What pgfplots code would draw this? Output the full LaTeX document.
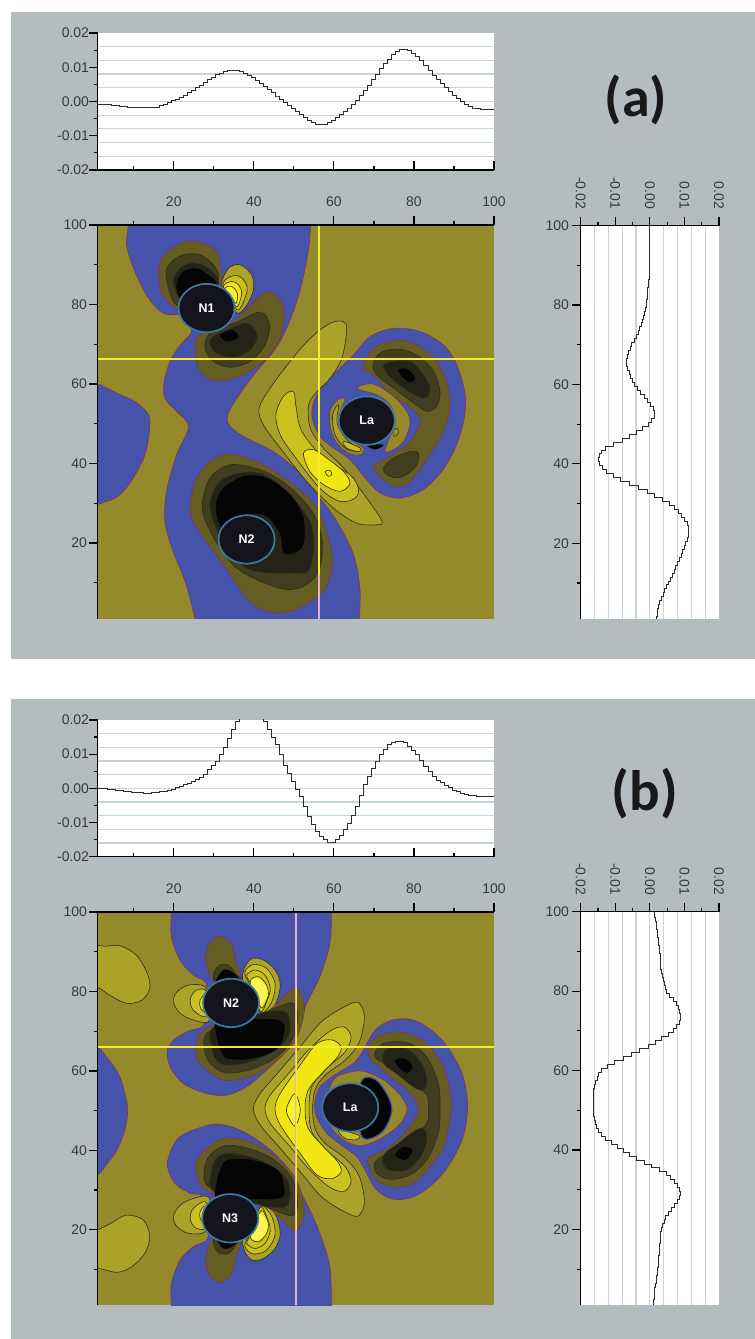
\documentclass[border=0pt]{standalone}
\usepackage{pgfplots}
\usepackage{pgfplotstable}
\usepackage{fontspec}
\pgfplotsset{compat=1.18}
\setmainfont{Liberation Sans}
\newfontfamily\headfont{Carlito}
\definecolor{bgp}{RGB}{180,188,191}
\definecolor{ol}{RGB}{149,138,43}
\definecolor{bl}{RGB}{70,83,170}
\definecolor{ed}{RGB}{130,50,90}
\definecolor{ln}{RGB}{45,45,30}
\definecolor{d1}{RGB}{100,94,35}
\definecolor{d2}{RGB}{64,62,30}
\definecolor{d3}{RGB}{36,36,22}
\definecolor{d4}{RGB}{5,5,5}
\definecolor{y1}{RGB}{172,162,40}
\definecolor{y2}{RGB}{202,192,32}
\definecolor{y3}{RGB}{240,230,20}
\definecolor{y4}{RGB}{250,242,40}
\definecolor{atom}{RGB}{20,20,28}
\definecolor{rim}{RGB}{62,122,160}
\definecolor{lab}{RGB}{55,58,60}
\definecolor{gridc}{RGB}{197,211,219}
\definecolor{crossy}{RGB}{245,235,50}
\definecolor{crossp}{RGB}{240,170,195}
\newcommand\fs{\fontsize{14}{14}\selectfont}
\pgfplotsset{
 base/.style={scale only axis, anchor=north west,
  tick style={black,line width=1.2pt},
  major tick length=8.5pt, minor tick length=4pt, scaled ticks=false,
  tick label style={font=\fs,text=lab,inner sep=0pt}},
 noarrow/.style={axis line style={black,line width=1.3pt,-},
  x axis line style={-},y axis line style={-},
  every outer x axis line/.append style={-},every outer y axis line/.append style={-},
  every inner x axis line/.append style={-},every inner y axis line/.append style={-}},
 map/.style={base,axis on top,width=396.3pt,height=393.6pt,xmin=1,xmax=100,ymin=1,ymax=100,
  axis x line=top,axis y line=left,noarrow,tick align=outside,
  xtick={20,40,60,80,100},xticklabels={20,40,60,80,100},minor xtick={10,30,50,70,90},
  ytick={20,40,60,80,100},yticklabels={20,40,60,80,100},minor ytick={10,30,50,70,90},
  xticklabel shift=10pt, yticklabel shift=2pt,
  axis background/.style={fill=ol}},
 prof/.style={base,width=396.3pt,height=137pt,xmin=1,xmax=100,ymin=-0.02,ymax=0.02,
  axis x line=bottom,axis y line=left,noarrow,tick align=outside,
  xtick={20,40,60,80,100},xticklabels={},minor xtick={10,30,50,70,90},
  major x tick style={yshift=8.5pt},minor x tick style={yshift=4pt},
  ytick={-0.02,-0.01,0,0.01,0.02},yticklabels={-0.02,-0.01,0.00,0.01,0.02},
  minor ytick={-0.015,-0.005,0.005,0.015},
  extra y ticks={-0.016,-0.012,-0.008,-0.004,0,0.004,0.008,0.012,0.016},
  extra y tick labels={},
  extra y tick style={grid=major,major tick length=0pt},
  major grid style={gridc,line width=1.2pt},
  axis background/.style={fill=white}},
 side/.style={base,width=138.3pt,height=393pt,xmin=-0.02,xmax=0.02,ymin=1,ymax=100,
  axis x line=top,axis y line=left,noarrow,tick align=outside,
  xtick={-0.02,-0.01,0,0.01,0.02},xticklabels={-0.02,-0.01,0.00,0.01,0.02},
  minor xtick={-0.015,-0.005,0.005,0.015},
  ytick={20,40,60,80,100},yticklabels={20,40,60,80,100},minor ytick={10,30,50,70,90},
  xticklabel style={rotate=-90,anchor=east,xshift=2pt},xticklabel shift=10pt,
  yticklabel shift=3pt,
  extra x ticks={-0.016,-0.012,-0.008,-0.004,0,0.004,0.008,0.012,0.016},
  extra x tick labels={},
  extra x tick style={grid=major,major tick length=0pt},
  major grid style={gridc,line width=1.2pt},
  axis background/.style={fill=white}},
 curve/.style={color=ln,line width=0.9pt},
 P/.style={smooth cycle,tension=0.55,line width=0.6pt},
 pb/.style={P,fill=bl,draw=ed},
 pd1/.style={P,fill=d1,draw=ed},
 pd2/.style={P,fill=d2,draw=ln},
 pd3/.style={P,fill=d3,draw=ln},
 pd4/.style={P,fill=d4,draw=none},
 py1/.style={P,fill=y1,draw=ln},
 py2/.style={P,fill=y2,draw=ln},
 py3/.style={P,fill=y3,draw=ln},
 py4/.style={P,fill=y4,draw=ln},
 pol/.style={P,fill=ol,draw=ed},
 atomm/.style={only marks,mark=*,mark size=24.2,mark options={xscale=1.16,fill=atom,draw=rim,line width=1.7pt},
   nodes near coords={#1},nodes near coords align=center,
   every node near coord/.append style={text=white,anchor=center,font=\fontsize{12.5}{13}\selectfont\bfseries}},
 hy/.style={crossy,line width=2pt},
 hp/.style={crossp,line width=1.8pt},
}
% Lobes round the upper nitrogen of panel b; the lower nitrogen is their near mirror image
\pgfplotstableread[row sep=\\]{x y\\28 87.5\\28.7 91.7\\31.6 94\\34.5 91.7\\35.3 88.3\\36.8 83.3\\33.3 82.4\\30.1 82.4\\}\pa
\pgfplotstableread[row sep=\\]{x y\\29.9 84.1\\31.2 86.5\\33.7 86.6\\35.8 84.1\\36.6 82.9\\30.8 82.4\\}\pb
\pgfplotstableread[row sep=\\]{x y\\30.8 83.3\\32.4 85.4\\34.5 85\\36.2 82.9\\31 82.4\\}\pc
\pgfplotstableread[row sep=\\]{x y\\37.6 85.8\\39.5 88.3\\42.4 87.9\\45.3 85.4\\46.6 81.6\\45.3 76.6\\42 74.2\\40.8 79.9\\37.4 82.4\\}\ya
\pgfplotstableread[row sep=\\]{x y\\37.8 85\\39.9 86.8\\43.2 85.8\\45.3 82\\44.5 77.4\\42 74.7\\41.6 79.9\\38.7 82.4\\}\yb
\pgfplotstableread[row sep=\\]{x y\\38.2 84.1\\40.3 85.4\\42.8 84.1\\44.1 80.8\\43.2 77.4\\41.6 75\\39.1 82\\}\yc
\pgfplotstableread[row sep=\\]{x y\\39.1 82.4\\41.2 83.7\\43.2 81.6\\43.6 79.1\\42.4 76.1\\41.4 76.6\\}\yd
\pgfplotstableread[row sep=\\]{x y\\39.2 82.3\\41.4 83.1\\43.1 81.2\\43.4 78.7\\42 77\\41.2 77\\}\ye
\pgfplotstableread[row sep=\\]{x y\\27.8 81.2\\23.7 81.6\\20.8 79.9\\19.9 77.4\\21.6 74.5\\24.9 72.8\\28.7 72.4\\29 76.6\\}\la
\pgfplotstableread[row sep=\\]{x y\\27.8 80.4\\25.3 80.1\\24.1 77.8\\24.9 75.3\\27.8 73.6\\29 76.6\\}\lb
\pgfplotstableread[row sep=\\]{x y\\27.8 79.1\\26.6 77.8\\26.6 76.1\\27.8 74.7\\29 76.6\\}\lc
\pgfplotstableread[row sep=\\]{x y\\25.6 66\\26.6 69.4\\30.8 71.9\\41.6 74\\45.7 76.9\\50.3 81\\52.6 76.9\\52 71.9\\49.9 66.9\\44.9 61.9\\39.1 58.5\\32.4 57.7\\27.4 61\\25.6 63.5\\}\ma
\pgfplotstableread[row sep=\\]{x y\\27.6 66\\29 70\\40.7 74\\47 76.5\\50 77\\51 73.6\\49.5 67.7\\45 63\\39 60.3\\33 59.5\\29 62\\}\mb
\pgfplotstableread[row sep=\\]{x y\\29.5 66\\30 71\\42 74.5\\47.5 75\\49 72.5\\48.5 68.5\\45 65\\39 62.3\\33 61.5\\30.5 63\\}\mc
\pgfplotstableread[row sep=\\]{x y\\30.7 69\\31.6 65.5\\33.2 63.2\\38 62.9\\42.9 64\\46.4 66.1\\47.5 69.5\\47.5 72\\45 73\\41 73\\31 73\\}\md
\newcommand\lobes[1]{%
 \addplot[pd1] table[x=x,y expr=#1] {\pa};
 \addplot[pd2] table[x=x,y expr=#1] {\pb};
 \addplot[pd4] table[x=x,y expr=#1] {\pc};
 \addplot[py1] table[x=x,y expr=#1] {\ya};
 \addplot[py2] table[x=x,y expr=#1] {\yb};
 \addplot[py2] table[x=x,y expr=#1] {\yc};
 \addplot[py3] table[x=x,y expr=#1] {\yd};
 \addplot[P,fill=y4!80!white,draw=none] table[x=x,y expr=#1] {\ye};
 \addplot[py1] table[x=x,y expr=#1] {\la};
 \addplot[py2] table[x=x,y expr=#1] {\lb};
 \addplot[py3] table[x=x,y expr=#1] {\lc};
 \addplot[pd1] table[x=x,y expr=#1] {\ma};
 \addplot[pd2] table[x=x,y expr=#1] {\mb};
 \addplot[pd3] table[x=x,y expr=#1] {\mc};
 \addplot[pd4] table[x=x,y expr=#1] {\md};
}
\begin{document}
\begin{tikzpicture}[x=1pt,y=1pt]
\path[use as bounding box,fill=white] (0,0) rectangle (755,1339);
\fill[bgp] (10.5,1339-12.5) rectangle (755,1339-659);
\fill[bgp] (10.5,1339-699.5) rectangle (755,0);
\node[font=\headfont\bfseries\fontsize{56}{56}\selectfont,text=black!90] at (636,1339-100) {(a)};
\node[font=\headfont\bfseries\fontsize{57}{57}\selectfont,text=black!90] at (645,1339-794) {(b)};

% ---------- panel a, profile along x
\begin{axis}[prof,at={(97.7pt,1306pt)}]
\addplot[curve,const plot mark mid] coordinates {(1,-0.0008)(2,-0.0008)(3,-0.0009)(4,-0.001)(5,-0.0011)(6,-0.0012)(7,-0.0014)(8,-0.0015)(9,-0.0016)(10,-0.0017)(11,-0.0018)(12,-0.0018)(13,-0.0018)(14,-0.0018)(15,-0.0017)(16,-0.0016)(17,-0.0012)(18,-0.0008)(19,-0.0003)(20,0.0002)(21,0.0007)(22,0.0012)(23,0.0018)(24,0.0025)(25,0.0032)(26,0.004)(27,0.0048)(28,0.0056)(29,0.0064)(30,0.0071)(31,0.0078)(32,0.0083)(33,0.0088)(34,0.009)(35,0.0091)(36,0.009)(37,0.0087)(38,0.0082)(39,0.0076)(40,0.0069)(41,0.0061)(42,0.0052)(43,0.0044)(44,0.0034)(45,0.0025)(46,0.0016)(47,0.0007)(48,-0.0002)(49,-0.0012)(50,-0.0021)(51,-0.003)(52,-0.0039)(53,-0.0047)(54,-0.0054)(55,-0.0061)(56,-0.0067)(57,-0.0068)(58,-0.0066)(59,-0.0061)(60,-0.0054)(61,-0.0046)(62,-0.0037)(63,-0.0029)(64,-0.0019)(65,-0.0009)(66,0.0003)(67,0.0017)(68,0.0032)(69,0.0048)(70,0.0064)(71,0.008)(72,0.0096)(73,0.011)(74,0.0124)(75,0.0136)(76,0.0146)(77,0.0151)(78,0.0152)(79,0.0148)(80,0.0141)(81,0.0131)(82,0.0119)(83,0.0105)(84,0.009)(85,0.0077)(86,0.0064)(87,0.0052)(88,0.004)(89,0.0029)(90,0.0018)(91,0.0008)(92,-0.0001)(93,-0.0009)(94,-0.0015)(95,-0.0019)(96,-0.0021)(97,-0.0023)(98,-0.0024)(99,-0.0024)(100,-0.0024)};
\end{axis}

% ---------- panel a, side profile along y
\begin{axis}[side,at={(580.7pt,1113.3pt)}]
\addplot[curve] coordinates {(-0.0002,100)(-0.0002,86.5)(-0.0004,86.5)(-0.0004,85.5)(-0.0005,85.5)(-0.0005,84.5)(-0.0006,84.5)(-0.0006,83.5)(-0.0007,83.5)(-0.0007,82.5)(-0.0008,82.5)(-0.0008,81.5)(-0.0009,81.5)(-0.0009,80.5)(-0.001,80.5)(-0.001,79.5)(-0.0012,79.5)(-0.0012,78.5)(-0.0015,78.5)(-0.0015,77.5)(-0.0018,77.5)(-0.0018,76.5)(-0.0021,76.5)(-0.0021,75.5)(-0.0024,75.5)(-0.0024,74.5)(-0.0029,74.5)(-0.0029,73.5)(-0.0034,73.5)(-0.0034,72.5)(-0.0039,72.5)(-0.0039,71.5)(-0.0045,71.5)(-0.0045,70.5)(-0.0052,70.5)(-0.0052,69.5)(-0.0057,69.5)(-0.0057,68.5)(-0.0062,68.5)(-0.0062,67.5)(-0.0066,67.5)(-0.0066,66.5)(-0.0067,66.5)(-0.0067,64.5)(-0.0064,64.5)(-0.0064,63.5)(-0.0059,63.5)(-0.0059,62.5)(-0.0055,62.5)(-0.0055,61.5)(-0.005,61.5)(-0.005,60.5)(-0.0044,60.5)(-0.0044,59.5)(-0.0036,59.5)(-0.0036,58.5)(-0.0026,58.5)(-0.0026,57.5)(-0.0015,57.5)(-0.0015,56.5)(-0.0006,56.5)(-0.0006,55.5)(0.0003,55.5)(0.0003,54.5)(0.001,54.5)(0.001,53.5)(0.0013,53.5)(0.0013,52.5)(0.0012,52.5)(0.0012,51.5)(0.0005,51.5)(0.0005,50.5)(-0.0005,50.5)(-0.0005,49.5)(-0.002,49.5)(-0.002,48.5)(-0.0038,48.5)(-0.0038,47.5)(-0.0058,47.5)(-0.0058,46.5)(-0.008,46.5)(-0.008,45.5)(-0.0105,45.5)(-0.0105,44.5)(-0.0128,44.5)(-0.0128,43.5)(-0.014,43.5)(-0.014,42.5)(-0.0146,42.5)(-0.0146,41.5)(-0.0148,41.5)(-0.0148,40.5)(-0.0146,40.5)(-0.0146,39.5)(-0.0138,39.5)(-0.0138,38.5)(-0.0125,38.5)(-0.0125,37.5)(-0.0105,37.5)(-0.0105,36.5)(-0.0084,36.5)(-0.0084,35.5)(-0.0058,35.5)(-0.0058,34.5)(-0.0032,34.5)(-0.0032,33.5)(-0.0008,33.5)(-0.0008,32.5)(0.0014,32.5)(0.0014,31.5)(0.0036,31.5)(0.0036,30.5)(0.0056,30.5)(0.0056,29.5)(0.007,29.5)(0.007,28.5)(0.0082,28.5)(0.0082,27.5)(0.0092,27.5)(0.0092,26.5)(0.0101,26.5)(0.0101,25.5)(0.0108,25.5)(0.0108,24.5)(0.0111,24.5)(0.0111,23.5)(0.0113,23.5)(0.0113,21.5)(0.011,21.5)(0.011,20.5)(0.0104,20.5)(0.0104,19.5)(0.01,19.5)(0.01,18.5)(0.0095,18.5)(0.0095,17.5)(0.0091,17.5)(0.0091,16.5)(0.0086,16.5)(0.0086,15.5)(0.0081,15.5)(0.0081,14.5)(0.0075,14.5)(0.0075,13.5)(0.007,13.5)(0.007,12.5)(0.0064,12.5)(0.0064,11.5)(0.0059,11.5)(0.0059,10.5)(0.0053,10.5)(0.0053,9.5)(0.0048,9.5)(0.0048,8.5)(0.0043,8.5)(0.0043,7.5)(0.0038,7.5)(0.0038,6.5)(0.0034,6.5)(0.0034,5.5)(0.0029,5.5)(0.0029,4.5)(0.0026,4.5)(0.0026,3.5)(0.0023,3.5)(0.0023,2.5)(0.0021,2.5)(0.0021,1.5)(0.0019,1.5)(0.0019,1)};
\end{axis}

% ---------- panel a, map
\begin{axis}[map,at={(97.7pt,1114pt)}]
\addplot[pb] coordinates {(8.7,103)(54.2,103)(54.2,100)(54,97.5)(53.6,93.3)(51.5,83.3)(48.2,74)(44.9,68.2)(40.7,63.2)(36.6,57.7)(33.5,52.3)(34.1,49.3)(38.2,46.4)(44.9,43)(51.5,37.6)(56.5,31.3)(60.7,25.5)(64.9,17.1)(66.5,8.7)(66.4,1)(66.4,-2)(25.3,-2)(25.3,1)(22.8,10.4)(19.5,18.8)(17.8,25.5)(18.2,33)(20.7,42.2)(23.7,49.3)(20.7,53.1)(17.8,56.4)(17.6,60.6)(19.1,65.7)(21.6,69.8)(24.5,73.2)(22.8,75.7)(21.2,77.4)(17.4,77.8)(13.7,81.6)(10.3,88.3)(8.2,95)(8.7,100)};
\addplot[pb] coordinates {(-3,61)(1.6,59.8)(5.8,57.7)(10.3,55.6)(13.7,52.3)(13.9,48.1)(12.8,42.2)(9.9,36.4)(6.6,32.2)(3.3,30.5)(-3,30.2)(-6,45)};
\addplot[pb] coordinates {(64.9,67.3)(69,71.9)(74.9,74)(81.5,73.2)(87.4,69.8)(90.7,64.8)(92.8,57.3)(92.4,50.6)(90.3,43.9)(86.9,38)(82.3,33.4)(76.5,31.3)(71.5,32.6)(67.8,36.4)(64,41)(59.9,43.9)(56.5,46.8)(54.6,51.4)(55,55.6)(57.4,59.8)(60.7,63.2)};
% crescent beyond La
\addplot[pd1] coordinates {(67.4,64.8)(69.9,69)(74.9,70.9)(79.9,70.3)(84.9,66.5)(88.2,60.6)(89,53.9)(87.4,48.1)(84,42.2)(79.9,36.4)(77.4,34.3)(74,34.7)(70.3,38)(69.9,39.7)(73.2,41.4)(78.2,44.7)(81.1,48.9)(81.5,51.4)(78.2,54.8)(74,57.3)(70.7,61.5)(67.8,63.6)};
\addplot[pd2] coordinates {(69.7,64.4)(71.5,67.8)(75.7,68.8)(80.7,67.3)(84.9,63.2)(86.5,58.1)(85.7,54.4)(83.2,53.1)(79.9,55.2)(74.9,59)(71.5,61.5)};
\addplot[pd3] coordinates {(72.4,64.8)(74.9,65.7)(79,65.7)(82.4,62.3)(84,59)(83.2,56.6)(81.1,56.9)(77.4,59)(73.6,62.3)};
\addplot[pd4] coordinates {(76.2,63.6)(78.3,63.8)(80.3,61.5)(79,60.4)(77,61.9)};
\addplot[pd2] coordinates {(72.4,38.9)(74.9,41.4)(79,43)(81.1,42.6)(80.7,39.7)(78.2,37.2)(75.7,36.4)(73.2,37.2)};
% olive and yellow round La
\addplot[pol] coordinates {(66.2,59.4)(69.9,60)(74.9,56.9)(78.2,53.1)(79,49.8)(77.4,45.6)(74.9,43.5)(72.8,43)(73.6,45.6)(75.3,50.6)(74,54.8)(70.7,57.3)(66.6,58.5)};
\addplot[P,fill=ol,draw=ln,line width=0.4pt] coordinates {(74.7,48.1)(75.7,48.9)(76.2,47.7)(75.1,46.8)};
\addplot[pol] coordinates {(59.1,53.5)(61.2,56.2)(62.8,56.2)(61.6,53.1)(61.6,49.3)(64.1,46)(67.4,43.9)(66.6,42.2)(63.7,42.6)(60.7,45.2)(59.1,49.3)};
\addplot[py1] coordinates {(59.7,52.3)(61.2,54.8)(60.8,50.2)(63.2,46)(66.6,43.3)(63.2,43.6)(60.3,47.2)};
\addplot[py2] coordinates {(62.4,45.6)(66.6,43.9)(66.2,43)(63.2,43.9)};
\addplot[pd4] coordinates {(68.2,44.7)(72.4,44.7)(70.3,43.5)};
% big yellow lobe
\addplot[py1] coordinates {(41.3,53.9)(44.1,59)(49.1,65.7)(54.1,71.5)(59.1,75.3)(62.4,75.7)(63.2,73.6)(62,66.5)(59.1,61.5)(55.8,58.1)(53.7,54.8)(54.1,48.9)(57.4,43.9)(62.4,38.9)(68.2,31.3)(72,25.5)(70.7,24.6)(65.7,25)(59.9,28.8)(53.2,35.5)(46.6,43.9)(42.4,49.7)};
\addplot[py2] coordinates {(45.5,52.3)(47.4,56.9)(49.9,58.1)(50.6,53.9)(52,48.1)(57.4,41.4)(64,37.2)(66.1,33.8)(65.3,31.3)(61.5,30.5)(56.5,33.8)(49.9,42.2)(46.6,47.2)};
\addplot[py3] coordinates {(52.4,42.6)(54.9,43.5)(58.2,41.4)(62.4,38)(64,35)(61.5,33)(57.4,34.7)(54,38)};
\addplot[py3] coordinates {(57.8,38)(59,38.3)(59.5,37.2)(58.6,36.8)};
% lobes at N1
\addplot[pd1] coordinates {(16.2,86.6)(17,91.6)(21.6,95.4)(26.6,95.7)(30.8,93.3)(31.8,88.3)(31.6,84.9)(26.6,80.7)(21.1,78.9)(17.4,82)};
\addplot[pd2] coordinates {(18.1,87)(19.1,90.4)(22.4,92.5)(26.6,92.5)(29.9,90)(31.2,86.6)(28.2,81.6)(20.7,79.9)};
\addplot[pd3] coordinates {(19.9,85.8)(21.6,89.1)(24.9,90.4)(28.7,89.1)(31.2,85.8)(29.1,81.6)(22.4,80.7)};
\addplot[pd4] coordinates {(20.6,84.9)(22.4,88.3)(25.7,89.1)(28.7,87.4)(30.8,84.9)(28.2,81.6)(22.4,80.7)};
\addplot[pd1] coordinates {(25.3,69)(26.6,72.4)(34.9,75.7)(42.4,82.8)(46.2,81.6)(47.6,77.4)(46.6,71.5)(42.4,65.7)(36.6,61.9)(30.8,60.8)(26.6,63.1)};
\addplot[pd2] coordinates {(27.8,69)(29.1,72.8)(35.8,75.6)(41.6,78.1)(43.9,74.9)(42.8,69.8)(39.1,65.7)(34.1,64.2)(29.9,65.7)};
\addplot[pd3] coordinates {(29.3,71.5)(33.3,73.6)(38.3,75.3)(40.8,72.4)(39.5,69)(35.8,66.9)(31.6,67.3)(29.5,69)};
\addplot[pd4] coordinates {(31.6,72.4)(34.5,73.6)(36.2,71.9)(34.1,70.7)(32.4,71.1)};
\addplot[py1] coordinates {(32,84.9)(33.7,89.1)(36.6,90)(39.5,87.4)(39.9,83.7)(38.3,79.9)(36.2,77.8)(34.5,79.5)};
\addplot[py2] coordinates {(32.3,84.9)(34.1,87)(36.6,87)(38.3,84.5)(37.8,81.6)(36.2,78.6)(35,79.9)};
\addplot[py3] coordinates {(32.4,84.5)(34.5,85.8)(36.2,84.9)(37,82.8)(35.9,79.5)(34.5,81)};
\addplot[py4] coordinates {(32.8,84.1)(34.5,84.5)(35.9,82.8)(35.6,80.3)(34.5,81.6)};
% lobes at N2
\addplot[pd1] coordinates {(24.1,30.5)(25.8,36.4)(29.1,40.6)(34.1,42.4)(41.6,40.1)(49.9,34.7)(55.7,28.8)(59.1,19.6)(59.5,13.7)(57.4,7.9)(51.5,3.7)(45.7,2.4)(39.9,4.5)(35.7,9.5)(32.4,14.6)(27.4,21.3)(24.5,26.3)};
\addplot[pd2] coordinates {(27.2,30.5)(29.1,36.4)(34.1,39.7)(41.6,38.4)(48.2,34.7)(54.5,28)(57,21.3)(56.5,13.7)(53.2,9.5)(48.2,8.3)(41.6,10.4)(35.7,13.7)(31.6,18.8)(29.1,23)(27.4,27.1)};
\addplot[pd3] coordinates {(29.1,30.5)(31.6,35.5)(36.6,37.6)(42.4,37.2)(48.2,33)(54,25.5)(54.9,18.8)(53.6,12.9)(49.9,12.5)(44,12.5)(38.2,13.7)(33.2,18.8)(29.9,25.5)};
\addplot[pd4] coordinates {(30.7,30.5)(32.4,33.8)(37.4,36.8)(43.2,36.4)(49.1,32.2)(52.4,26.3)(52.4,19.6)(49.9,17.5)(47.4,17.5)(46.6,22.1)(43.2,26.7)(38.2,27.1)(32.4,23.8)(30.7,27.1)};
% cross hair
\addplot[hp] coordinates {(56.3,1)(56.3,12)};
\addplot[hy] coordinates {(56.3,12)(56.3,100)};
\addplot[crossp,line width=0.6pt] coordinates {(1,66.1)(100,66.1)};
\addplot[hy] coordinates {(1,66.4)(100,66.4)};
% atoms
\addplot[atomm=N1] coordinates {(28.2,79.1)};
\addplot[atomm=N2] coordinates {(38.2,20.9)};
\addplot[atomm=La] coordinates {(68.2,50.8)};
\end{axis}

% ---------- panel b, profile along x
\begin{axis}[prof,at={(97.7pt,619pt)},height=136.7pt]
\addplot[curve,const plot mark mid] coordinates {(1,0)(2,0)(3,-0.0001)(4,-0.0002)(5,-0.0003)(6,-0.0005)(7,-0.0007)(8,-0.0009)(9,-0.001)(10,-0.0011)(11,-0.0012)(12,-0.0013)(13,-0.0014)(14,-0.0014)(15,-0.0013)(16,-0.0012)(17,-0.001)(18,-0.0008)(19,-0.0005)(20,-0.0002)(21,0.0002)(22,0.0006)(23,0.001)(24,0.0014)(25,0.0019)(26,0.0025)(27,0.0032)(28,0.0042)(29,0.0054)(30,0.0066)(31,0.008)(32,0.0099)(33,0.012)(34,0.0146)(35,0.0171)(36,0.0195)(37,0.0215)(38,0.023)(39,0.024)(40,0.0245)(41,0.024)(42,0.022)(43,0.0196)(44,0.0172)(45,0.015)(46,0.0127)(47,0.0098)(48,0.0068)(49,0.0044)(50,0.002)(51,-0.0002)(52,-0.0024)(53,-0.0053)(54,-0.0083)(55,-0.0106)(56,-0.0127)(57,-0.0141)(58,-0.0151)(59,-0.0157)(60,-0.0158)(61,-0.015)(62,-0.0137)(63,-0.012)(64,-0.0102)(65,-0.008)(66,-0.0054)(67,-0.0022)(68,0.001)(69,0.0035)(70,0.0059)(71,0.008)(72,0.0098)(73,0.0113)(74,0.0127)(75,0.0133)(76,0.0137)(77,0.0138)(78,0.0134)(79,0.0124)(80,0.0112)(81,0.0098)(82,0.0083)(83,0.0065)(84,0.0049)(85,0.0035)(86,0.0024)(87,0.0016)(88,0.0009)(89,0.0002)(90,-0.0005)(91,-0.001)(92,-0.0015)(93,-0.0018)(94,-0.002)(95,-0.0022)(96,-0.0024)(97,-0.0025)(98,-0.0025)(99,-0.0025)(100,-0.0025)};
\end{axis}

% ---------- panel b, side profile along y
\begin{axis}[side,at={(580.7pt,427.3pt)},height=393.3pt]
\addplot[curve] coordinates {(0.0013,100)(0.0013,99.5)(0.0014,99.5)(0.0014,98.5)(0.0016,98.5)(0.0016,97.5)(0.0018,97.5)(0.0018,96.5)(0.002,96.5)(0.002,95.5)(0.0021,95.5)(0.0021,94.5)(0.0023,94.5)(0.0023,93.5)(0.0024,93.5)(0.0024,92.5)(0.0026,92.5)(0.0026,91.5)(0.0028,91.5)(0.0028,90.5)(0.0029,90.5)(0.0029,89.5)(0.003,89.5)(0.003,88.5)(0.0031,88.5)(0.0031,87.5)(0.0032,87.5)(0.0032,85.5)(0.0033,85.5)(0.0033,84.5)(0.0036,84.5)(0.0036,83.5)(0.0039,83.5)(0.0039,82.5)(0.0042,82.5)(0.0042,81.5)(0.0045,81.5)(0.0045,80.5)(0.0048,80.5)(0.0048,79.5)(0.0056,79.5)(0.0056,78.5)(0.0068,78.5)(0.0068,77.5)(0.0076,77.5)(0.0076,76.5)(0.0082,76.5)(0.0082,75.5)(0.0086,75.5)(0.0086,74.5)(0.0089,74.5)(0.0089,73.5)(0.0088,73.5)(0.0088,72.5)(0.0085,72.5)(0.0085,71.5)(0.0077,71.5)(0.0077,70.5)(0.0068,70.5)(0.0068,69.5)(0.0055,69.5)(0.0055,68.5)(0.0034,68.5)(0.0034,67.5)(0.0015,67.5)(0.0015,66.5)(-0.0005,66.5)(-0.0005,65.5)(-0.0029,65.5)(-0.0029,64.5)(-0.0053,64.5)(-0.0053,63.5)(-0.0076,63.5)(-0.0076,62.5)(-0.0101,62.5)(-0.0101,61.5)(-0.0123,61.5)(-0.0123,60.5)(-0.014,60.5)(-0.014,59.5)(-0.0148,59.5)(-0.0148,58.5)(-0.0153,58.5)(-0.0153,57.5)(-0.0157,57.5)(-0.0157,56.5)(-0.016,56.5)(-0.016,55.5)(-0.0162,55.5)(-0.0162,54.5)(-0.0163,54.5)(-0.0163,53.5)(-0.0164,53.5)(-0.0164,49.5)(-0.0162,49.5)(-0.0162,48.5)(-0.016,48.5)(-0.016,47.5)(-0.0158,47.5)(-0.0158,46.5)(-0.0155,46.5)(-0.0155,45.5)(-0.0149,45.5)(-0.0149,44.5)(-0.014,44.5)(-0.014,43.5)(-0.0127,43.5)(-0.0127,42.5)(-0.0111,42.5)(-0.0111,41.5)(-0.0094,41.5)(-0.0094,40.5)(-0.0077,40.5)(-0.0077,39.5)(-0.0058,39.5)(-0.0058,38.5)(-0.0039,38.5)(-0.0039,37.5)(-0.0017,37.5)(-0.0017,36.5)(0.0005,36.5)(0.0005,35.5)(0.0027,35.5)(0.0027,34.5)(0.0048,34.5)(0.0048,33.5)(0.006,33.5)(0.006,32.5)(0.0072,32.5)(0.0072,31.5)(0.008,31.5)(0.008,30.5)(0.0087,30.5)(0.0087,29.5)(0.0088,29.5)(0.0088,28.5)(0.0085,28.5)(0.0085,27.5)(0.0079,27.5)(0.0079,26.5)(0.0072,26.5)(0.0072,25.5)(0.0062,25.5)(0.0062,24.5)(0.0053,24.5)(0.0053,23.5)(0.0046,23.5)(0.0046,22.5)(0.0041,22.5)(0.0041,21.5)(0.0037,21.5)(0.0037,20.5)(0.0034,20.5)(0.0034,19.5)(0.0032,19.5)(0.0032,18.5)(0.0031,18.5)(0.0031,17.5)(0.003,17.5)(0.003,16.5)(0.0029,16.5)(0.0029,15.5)(0.0028,15.5)(0.0028,14.5)(0.0027,14.5)(0.0027,13.5)(0.0026,13.5)(0.0026,12.5)(0.0025,12.5)(0.0025,11.5)(0.0024,11.5)(0.0024,10.5)(0.0023,10.5)(0.0023,9.5)(0.0021,9.5)(0.0021,8.5)(0.0019,8.5)(0.0019,7.5)(0.0018,7.5)(0.0018,6.5)(0.0016,6.5)(0.0016,5.5)(0.0014,5.5)(0.0014,4.5)(0.0013,4.5)(0.0013,3.5)(0.0012,3.5)(0.0012,2.5)(0.0011,2.5)(0.0011,1)};
\end{axis}

% ---------- panel b, map
\begin{axis}[map,at={(97.7pt,427pt)},height=393.3pt]
\addplot[py1] coordinates {(-3,91)(3.2,91.4)(6.6,91.5)(10.7,89.1)(13.4,84.5)(14,80.7)(12,77.8)(8.2,77)(4.1,79)(1,81)(-3,82)};
\addplot[py1] coordinates {(-3,10)(1,10.3)(5.8,9.3)(9.5,10.7)(12.8,14.1)(14,18.3)(12.4,22.5)(8.2,23.7)(4.9,22)(1,20)(-3,19)};
\addplot[pb] coordinates {(-3,66.5)(1,66)(3.2,63.5)(6.2,59.3)(7.8,54.3)(8.5,50.1)(7.8,45.1)(5.8,40.1)(2.8,35.9)(1,33.8)(-3,33)};
\addplot[pb] coordinates {(19.4,103)(19.4,100)(19.4,93.7)(21.6,87.8)(24.9,84.1)(28.2,81.6)(27.6,71.9)(24.1,70.2)(20.3,68.1)(18.4,65.2)(19.1,61)(22.4,56.8)(28.2,54.3)(33.2,53.9)(38.2,56)(43.2,60.2)(48.2,65.2)(50.9,70.2)(53.2,76.9)(56.5,83.7)(59,92)(59.4,100)(59.4,103)};
\addplot[pb] coordinates {(18.4,36.7)(20.7,42.6)(24.9,45.1)(30.7,46.6)(36.6,45.1)(43.2,40.9)(48.2,35.9)(50.9,30.8)(53.6,25.8)(56.5,19.1)(59,10.7)(59.4,1)(59.4,-2)(19.4,-2)(19.4,1)(19.4,6.5)(21.6,12.4)(24.9,15.8)(28.6,18.2)(27.6,27.9)(24.1,29.2)(20.3,31.7)};
\addplot[pb] coordinates {(68.2,66.9)(70.7,70.7)(74.9,72.9)(79.9,72.8)(84.9,69.8)(89,65.2)(92.3,58.5)(93.4,51)(92.3,43.4)(89,36.7)(84.9,31.7)(79.9,28.3)(74.9,27.7)(70.7,30)(67.8,35)(65.7,38.4)(62.4,40.9)(58.2,44.3)(55.7,48.4)(55.2,51.8)(56.5,56)(60.7,59.3)(64.9,61.9)(67.4,65.2)};
% crescent beyond La
\addplot[pd1] coordinates {(68.6,66)(70.7,68.6)(74.9,69.8)(79.9,69)(84,66)(87.4,61)(89.2,53.5)(89,47.6)(87.4,40.9)(84,35.9)(79.9,31.7)(74.9,30.7)(70.7,32.5)(69,35.9)(68.6,38)(74,40.9)(78.2,45.1)(81.1,50.5)(78.2,55.2)(74,58.5)(71.5,61)(69,63.1)};
\addplot[pd2] coordinates {(70.3,63.5)(71.2,66.1)(74,67.3)(79,66.9)(83.2,63.5)(86.1,56.8)(86.5,50.5)(86.1,44.3)(83.2,37.6)(79,33.8)(74,32.7)(70.7,34.2)(70.3,37.1)(74,39.6)(79,42.6)(83.2,46.8)(83.6,50.5)(83.2,53.9)(79,57.7)(74,61)};
\addplot[pd3] coordinates {(72.2,63.5)(73.6,65.6)(78.2,65.6)(81.9,61.9)(83.2,57.7)(82.4,55.2)(79.9,56)(75.7,59.3)(72.8,61.4)};
\addplot[pd3] coordinates {(72.2,37.2)(73.6,35.1)(78.2,35.1)(81.9,38.8)(83.2,43)(82.4,45.5)(79.9,44.7)(75.7,41.4)(72.8,39.3)};
\addplot[pd4] coordinates {(75.3,62.7)(77.8,63.1)(79.7,61)(78.2,59.5)(76.1,61)};
\addplot[pd4] coordinates {(75.3,38.8)(77.4,40.9)(79.7,40)(77.8,37.6)};
% olive ring round La and the black patch
\addplot[pol] coordinates {(59.9,57.7)(63.3,59.5)(67.4,59.9)(72.4,57.7)(76.2,54.3)(78.3,50.6)(76.6,46.8)(72.4,43.4)(67.4,41.3)(63.3,42.1)(59.5,45.5)(57.8,51)};
\addplot[P,fill=d4,draw=bl,line width=1.2pt] coordinates {(67,57.7)(70.3,57.9)(73.2,54.3)(74.5,50.1)(72.8,45.5)(69.9,43.2)(67,43.4)(65.8,50.1)};
\addplot[py2] coordinates {(61.2,45.1)(66.2,43.8)(65.8,42.7)(62.8,43)};
% central yellow lobe
\addplot[py1] coordinates {(39.9,50.5)(41.6,54.3)(46.6,60.2)(51.6,66.1)(57.4,72.8)(64.9,77.2)(67,76.1)(67.6,72.8)(66.2,66.9)(62.8,62.7)(57.8,58.9)(55.3,55.2)(54.7,50.4)(55.3,45.5)(57.8,41.8)(62.8,38)(66.2,33.8)(67.6,27.9)(67,24.6)(64.9,23.5)(57.4,27.9)(51.6,34.6)(46.6,40.5)(41.6,46.4)};
\addplot[py2] coordinates {(42.8,50.5)(44.1,53.9)(49.1,59.8)(53.6,65.2)(58.7,69.8)(62.4,71.1)(64.3,68.6)(62.8,64.8)(58.2,60.6)(54.5,56)(53.8,50.4)(54.5,44.7)(58.2,40.1)(62.8,35.9)(64.3,32.1)(62.4,29.6)(58.7,30.9)(53.6,35.5)(49.1,40.9)(44.1,46.8)};
\addplot[py3] coordinates {(45.3,50.5)(46.6,54.3)(51.6,61.5)(55.8,66.9)(59.5,67.8)(61.8,66.1)(60.9,63.5)(57.4,59.8)(53.6,55.2)(52.8,50.4)(53.6,45.5)(57.4,40.9)(60.9,37.2)(61.8,34.6)(59.5,32.9)(55.8,33.8)(51.6,39.2)(46.6,46.4)};
\addplot[P,fill=y4,draw=ln] coordinates {(50.3,54.3)(48.3,51)(48.4,48.9)(50.3,46.1)(51.6,50.1)};
% lobes at the two nitrogens
\lobes{\thisrow{y}}
\lobes{100.7-\thisrow{y}}
% cross hair
\addplot[hp] coordinates {(50.6,1)(50.6,100)};
\addplot[hy,line width=1.4pt] coordinates {(50.6,20)(50.6,81)};
\addplot[hy] coordinates {(1,65.9)(100,65.9)};
% atoms
\addplot[atomm=N2] coordinates {(34.3,77.1)};
\addplot[atomm=N3] coordinates {(34.1,22.9)};
\addplot[atomm=La] coordinates {(64.1,50.8)};
\end{axis}
\end{tikzpicture}
\end{document}
